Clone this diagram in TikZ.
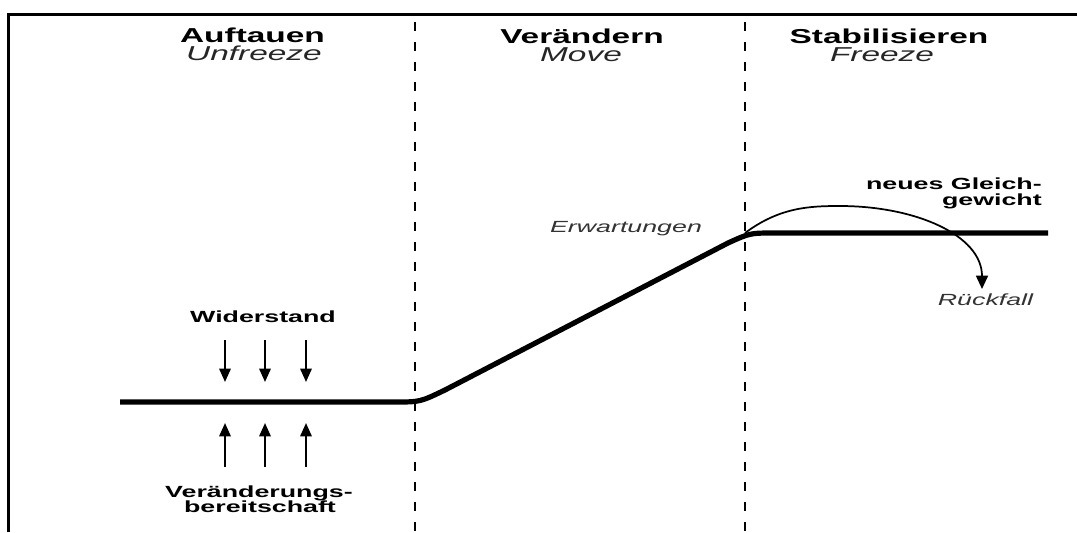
\documentclass[tikz,border=0pt]{standalone}
\usepackage{fontspec}
\setmainfont{Liberation Sans}
\usepackage{graphicx}
\usetikzlibrary{arrows.meta}
\newcommand{\hs}[1]{\scalebox{1.66}[1]{#1}}
\begin{document}
\begin{tikzpicture}[x=0.75pt,y=-0.75pt,
  head/.style={font=\fontsize{15.1}{16}\selectfont\bfseries, anchor=base, inner sep=0pt},
  sub/.style={font=\fontsize{15.1}{16}\selectfont\itshape, anchor=base, inner sep=0pt, text=black!85},
  lbl/.style={font=\fontsize{12.1}{13}\selectfont\bfseries, anchor=base, inner sep=0pt},
  ilbl/.style={font=\fontsize{12.1}{13}\selectfont\itshape, anchor=base, inner sep=0pt, text=black!80},
  frame/.style={line width=2.3pt},
  divider/.style={line width=1.7pt, dash pattern=on 7pt off 8pt},
  mainline/.style={line width=3.9pt},
  force/.style={line width=1.6pt, -{Triangle[length=10pt,width=8.5pt]}},
  relapse/.style={line width=1.3pt, -{Triangle[length=10pt,width=9pt]}}]
\useasboundingbox (0,0) rectangle (1077,532);
% frame
\coordinate (fbl) at (8.5,532);
\coordinate (ftl) at (8.5,14.5);
\coordinate (ftr) at (1077,14.5);
\draw[frame] (fbl) -- (ftl) -- (ftr);
% dividers
\coordinate (d1t) at (415,22);
\coordinate (d1b) at (415,532);
\coordinate (d2t) at (745,22);
\coordinate (d2b) at (745,532);
\draw[divider] (d1t) -- (d1b);
\draw[divider] (d2t) -- (d2b);
% headings
\node[head] (h1) at (252.5,42) {\hs{Auftauen}};
\node[sub]  (s1) at (254,60) {\hs{Unfreeze}};
\node[head] (h2) at (582,43) {\hs{Verändern}};
\node[sub]  (s2) at (581,61) {\hs{Move}};
\node[head] (h3) at (889,43) {\hs{Stabilisieren}};
\node[sub]  (s3) at (882,61) {\hs{Freeze}};
% main curve
\coordinate (c0) at (120,402);
\coordinate (c1) at (395,402);
\coordinate (c2) at (445,390);
\coordinate (c3) at (728,243);
\coordinate (c4) at (775,233);
\coordinate (c5) at (1048,233);
\draw[mainline] (c0) -- (c1) .. controls (420,402) .. (c2) -- (c3) .. controls (750,233) .. (c4) -- (c5);
% resistance / readiness
\node[lbl] (wid) at (263,322) {\hs{Widerstand}};
\node[lbl] (ver1) at (259,497) {\hs{Veränderungs-}};
\node[lbl] (ver2) at (260,512) {\hs{bereitschaft}};
\foreach \x [count=\i] in {225,265,306}{
  \coordinate (dt\i) at (\x,340);
  \coordinate (dh\i) at (\x,382);
  \coordinate (ut\i) at (\x,467);
  \coordinate (uh\i) at (\x,423);
  \draw[force] (dt\i) -- (dh\i);
  \draw[force] (ut\i) -- (uh\i);
}
% expectations / equilibrium / relapse
\node[ilbl] (erw) at (626,232) {\hs{Erwartungen}};
\node[lbl, anchor=base east] (neu1) at (1042,189) {\hs{neues Gleich-}};
\node[lbl, anchor=base east] (neu2) at (1042,205) {\hs{gewicht}};
\node[ilbl] (rue) at (985.5,305) {\hs{Rückfall}};
\coordinate (ra) at (745,233);
\coordinate (rp) at (840,206);
\coordinate (rb) at (982,289);
\draw[relapse] (ra) .. controls (780,207) and (810,206) .. (rp) .. controls (915,206) and (982,235) .. (rb);
\end{tikzpicture}
\end{document}
